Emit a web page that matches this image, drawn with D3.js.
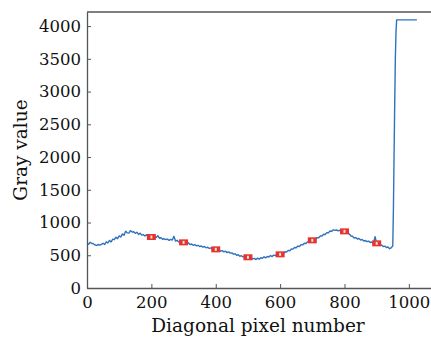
<!DOCTYPE html>
<html>
<head>
<meta charset="utf-8">
<script src="https://cdn.jsdelivr.net/npm/d3@7"></script>
<style>
  body { margin: 0; background: #fff; }
  .chart text { font-family: "DejaVu Serif", serif; fill: #111; }
</style>
</head>
<body>
<div class="chart"></div>
<script>
// profile sampled every 5 pixels from 0 to 945
const profileStep = 5;
const profileValues = [
  682,668,698,680,676,656,650,664,654,666,
  684,666,706,688,726,704,746,738,776,754,
  796,778,826,806,866,842,838,876,856,860,
  834,852,818,838,808,816,794,812,784,792,
  779,792,764,772,798,760,768,744,752,740,
  746,728,742,732,790,718,728,704,712,694,
  697,710,684,690,662,672,652,662,644,652,
  634,642,624,634,614,622,604,612,594,604,
  590,578,582,562,572,552,562,540,552,532,
  536,518,522,500,508,486,492,474,484,466,
  469,456,462,444,452,434,456,440,462,454,
  476,460,482,474,496,480,502,494,512,504,
  514,536,528,554,548,574,568,596,594,618,
  614,640,634,662,658,684,678,704,698,724,
  728,746,744,770,768,796,794,820,818,846,
  844,870,864,888,880,886,874,880,868,876,
  865,858,834,826,794,790,764,770,748,756,
  734,740,718,726,708,716,694,702,684,783,
  682,678,654,658,634,640,618,626,600,614
];
// saturated edge at the end of the diagonal
const edgeX = [950, 952, 954, 956, 958, 960, 962, 1025];
const edgeValues = [640, 1200, 2000, 2800, 3500, 3900, 4095, 4095];

// sampled points (red markers)
const markerX = [200, 300, 400, 500, 600, 700, 800, 900];
const markerValues = [779, 697, 590, 469, 514, 728, 865, 682];

const xTicks = [0, 200, 400, 600, 800, 1000];
const yTicks = [0, 500, 1000, 1500, 2000, 2500, 3000, 3500, 4000];

const width = 431, height = 337;
const margin = { top: 12, right: -2, bottom: 49, left: 87 };

const data = profileValues.map((v, i) => ({ x: i * profileStep, y: v }))
  .concat(edgeX.map((x, i) => ({ x: x, y: edgeValues[i] })));

const svg = d3.select(".chart").append("svg")
  .attr("width", width)
  .attr("height", height);

const x = d3.scaleLinear().domain([0, 1075]).range([margin.left, width - margin.right]);
const y = d3.scaleLinear().domain([0, 4215]).range([height - margin.bottom, margin.top]);

const axisColor = "#555";

// data line
const line = d3.line().x(d => x(d.x)).y(d => y(d.y));
svg.append("path")
  .datum(data)
  .attr("fill", "none")
  .attr("stroke", "#2e73bd")
  .attr("stroke-width", 1.4)
  .attr("stroke-linejoin", "round")
  .attr("d", line);

// markers
const mk = svg.append("g");
markerX.forEach((mx, i) => {
  mk.append("rect")
    .attr("x", x(mx) - 4.5).attr("y", y(markerValues[i]) - 3)
    .attr("width", 9).attr("height", 6)
    .attr("fill", "#e8322c");
  mk.append("rect")
    .attr("x", x(mx) - 1).attr("y", y(markerValues[i]) - 1.5)
    .attr("width", 2).attr("height", 3)
    .attr("fill", "#dde4ee");
});

// axes (ticks inward)
const fmt = d3.format("d");
const xAxis = svg.append("g")
  .attr("transform", `translate(0,${y(0)})`)
  .call(d3.axisBottom(x).tickValues(xTicks).tickFormat(fmt).tickSizeInner(-4).tickSizeOuter(0).tickPadding(8));
const yAxis = svg.append("g")
  .attr("transform", `translate(${x(0)},0)`)
  .call(d3.axisLeft(y).tickValues(yTicks).tickFormat(fmt).tickSizeInner(-4).tickSizeOuter(0).tickPadding(6));

[xAxis, yAxis].forEach(a => {
  a.select(".domain").attr("stroke", axisColor).attr("stroke-width", 1.3);
  a.selectAll(".tick line").attr("stroke", axisColor).attr("stroke-width", 1);
  a.selectAll(".tick text").attr("font-size", 16.5).attr("fill", "#111");
});
xAxis.selectAll(".tick text").attr("dy", "0.72em");

// top border
svg.append("line")
  .attr("x1", x(0)).attr("x2", width)
  .attr("y1", margin.top).attr("y2", margin.top)
  .attr("stroke", axisColor).attr("stroke-width", 1.3);

// axis titles
svg.append("text")
  .attr("x", 258)
  .attr("y", 332)
  .attr("text-anchor", "middle")
  .attr("font-size", 18.5)
  .text("Diagonal pixel number");

svg.append("text")
  .attr("transform", `translate(27,${(margin.top + y(0)) / 2}) rotate(-90)`)
  .attr("text-anchor", "middle")
  .attr("font-size", 18.5)
  .text("Gray value");
</script>
</body>
</html>
